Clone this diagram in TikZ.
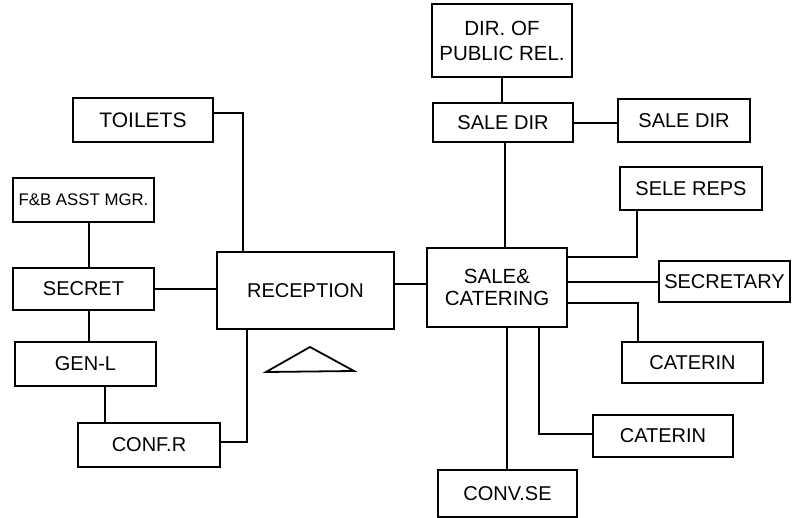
\documentclass[tikz,border=0pt]{standalone}
\usepackage{fontspec}
\setmainfont{Liberation Sans}
\begin{document}
\begin{tikzpicture}[x=1pt,y=-1pt,
  box/.style={draw, line width=1.7pt, inner sep=0pt, align=center, font=\fontsize{20}{23}\selectfont},
  conn/.style={line width=1.7pt}]
\useasboundingbox (0,0) rectangle (803,518);
% left side
\node[box, minimum width=140pt, minimum height=44pt, font=\fontsize{21}{24}\selectfont] (toilets) at (143,120) {TOILETS};
\node[box, minimum width=141pt, minimum height=44pt, font=\fontsize{16.8}{19}\selectfont] (fb) at (83.5,200) {F\&B ASST MGR.};
\node[box, minimum width=141pt, minimum height=42pt] (secret) at (83.5,289) {SECRET};
\node[box, minimum width=141pt, minimum height=44pt] (genl) at (85.5,364) {GEN-L};
\node[box, minimum width=142pt, minimum height=44pt] (confr) at (149,445) {CONF.R};
\node[box, minimum width=177pt, minimum height=77pt] (reception) at (305.5,290.5) {RECEPTION};
% right side
\node[box, minimum width=140pt, minimum height=73pt, font=\fontsize{20.5}{25}\selectfont] (dir) at (502,40.5) {DIR. OF\\PUBLIC REL.};
\node[box, minimum width=140pt, minimum height=39pt] (saledirA) at (503,122.5) {SALE DIR};
\node[box, minimum width=132pt, minimum height=43pt] (saledirB) at (684,120.5) {SALE DIR};
\node[box, minimum width=142pt, minimum height=43pt] (selereps) at (691,188.5) {SELE REPS};
\node[box, minimum width=140pt, minimum height=79pt, font=\fontsize{20.5}{22}\selectfont] (sc) at (497,287.5) {SALE\&\\CATERING};
\node[box, minimum width=131pt, minimum height=41pt] (secretary) at (724.5,281.5) {SECRETARY};
\node[box, minimum width=141pt, minimum height=41pt] (caterinA) at (692.5,362.5) {CATERIN};
\node[box, minimum width=140pt, minimum height=42pt] (caterinB) at (663,436) {CATERIN};
\node[box, minimum width=139pt, minimum height=47pt] (convse) at (507.5,493.5) {CONV.SE};
% helper coordinates
\coordinate (xt) at (243,0);
\coordinate (xc) at (247,0);
\coordinate (xfb) at (89,0);
\coordinate (xgl) at (105,0);
\coordinate (xsd) at (505,0);
\coordinate (xsr) at (637,0);
\coordinate (ysr) at (0,257);
\coordinate (ysec) at (0,282);
\coordinate (yca) at (0,303);
\coordinate (xca) at (638,0);
\coordinate (xcb) at (539,0);
\coordinate (xcv) at (507,0);
\coordinate (yrc) at (0,284);
\coordinate (ysd) at (0,123);
% connectors left
\draw[conn] ([yshift=7pt]toilets.east) -| (reception.north -| xt);
\draw[conn] (fb.south -| xfb) -- (secret.north -| xfb);
\draw[conn] (secret.east) -- (secret.east -| reception.west);
\draw[conn] (secret.south -| xfb) -- (genl.north -| xfb);
\draw[conn] (genl.south -| xgl) -- (confr.north -| xgl);
\draw[conn] ([yshift=3pt]confr.east) -| (reception.south -| xc);
\draw[conn] (reception.east |- yrc) -- (sc.west |- yrc);
% connectors right
\draw[conn] (dir.south) -- (saledirA.north -| dir.south);
\draw[conn] (saledirA.east |- ysd) -- (saledirB.west |- ysd);
\draw[conn] (saledirA.south -| xsd) -- (sc.north -| xsd);
\draw[conn] (selereps.south -| xsr) |- (sc.east |- ysr);
\draw[conn] (sc.east |- ysec) -- (secretary.west |- ysec);
\draw[conn] (sc.east |- yca) -| (caterinA.north -| xca);
\draw[conn] (sc.south -| xcb) |- ([yshift=2pt]caterinB.west);
\draw[conn] (sc.south -| xcv) -- (convse.north -| xcv);
% triangle
\draw[line width=1.8pt, line join=miter] (266,372) -- (310,347) -- (354,371) -- cycle;
\end{tikzpicture}
\end{document}
